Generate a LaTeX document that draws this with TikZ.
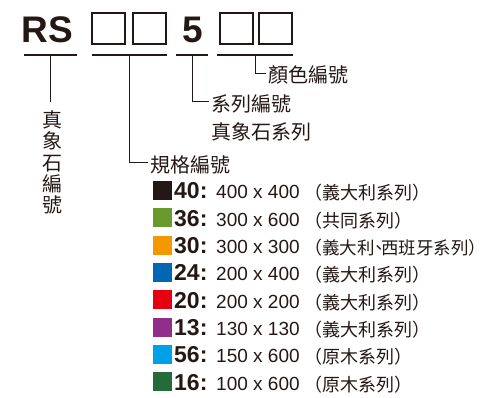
\documentclass[tikz,border=0pt]{standalone}
\usepackage{fontspec}
\setmainfont{Liberation Sans}
\newfontfamily\cjk{Noto Sans CJK TC}
\usetikzlibrary{positioning}
\definecolor{ink}{HTML}{231815}
\definecolor{c40}{HTML}{231815}
\definecolor{c36}{HTML}{6A9A2E}
\definecolor{c30}{HTML}{F39800}
\definecolor{c24}{HTML}{0067B5}
\definecolor{c20}{HTML}{E60012}
\definecolor{c13}{HTML}{8F2F8B}
\definecolor{c56}{HTML}{00A0E9}
\definecolor{c16}{HTML}{256A39}

\begin{document}
\begin{tikzpicture}[x=1pt,y=-1pt,
    every node/.style={inner sep=0pt,text=ink},
    slot/.style={draw=ink,line width=2pt,minimum width=33pt,minimum height=31pt},
    uline/.style={fill=ink,minimum height=2.6pt},
    big/.style={font=\bfseries\fontsize{37}{37}\selectfont,anchor=base west},
    tag/.style={font=\cjk\fontsize{20}{20}\selectfont,inner xsep=2pt,anchor=west},
    wire/.style={draw=ink,line width=0.8pt}]
  \useasboundingbox (0,0) rectangle (487,398);
  % code line
  \node[big] (rs) at (21.5,43) {RS};
  \node[slot] (s1) at (108.5,28.5) {};
  \node[slot] (s2) at (149,28.5) {};
  \node[big] (five) at (182,43) {5};
  \node[slot] (s3) at (236,28.5) {};
  \node[slot] (s4) at (275.5,28.5) {};
  \node[uline,minimum width=53pt] (ulrs) at (50.5,55) {};
  \node[uline,minimum width=75pt] (ulsize) at (129.5,55) {};
  \node[uline,minimum width=32pt] (ulfive) at (192,55) {};
  \node[uline,minimum width=76pt] (ulcolor) at (255,55) {};
  % labels
  \node[font=\cjk\fontsize{20}{21.3}\selectfont,align=center] (stone) at (52.5,162.5) {真\\象\\石\\編\\號};
  \coordinate (stoneend) at (50.5,102);
  \node[tag] (size) at (148,164.5) {規格編號};
  \node[tag] (series) at (209,104) {系列編號};
  \node[tag,anchor=north west] (series2) at ([yshift=-9pt]series.south west) {真象石系列};
  \node[tag] (color) at (266,75) {顏色編號};
  \draw[wire] (ulrs.south) -- (stoneend);
  \draw[wire] (ulsize.south) |- ([yshift=2pt]size.west);
  \draw[wire] (ulfive.south) |- ([yshift=3pt]series.west);
  \draw[wire] (ulcolor.south) |- ([yshift=2pt]color.west);
  % sizes
  \foreach \code/\dims/\kind/\col [count=\i from 0] in {40/400 x 400/義大利系列/c40,
      36/300 x 600/共同系列/c36,
      30/300 x 300/\fontsize{17.5}{18}\selectfont 義大利\kern-4pt、\kern-7pt西班牙系列/c30,
      24/200 x 400/義大利系列/c24, 20/200 x 200/義大利系列/c20,
      13/130 x 130/義大利系列/c13, 56/150 x 600/原木系列/c56,
      16/100 x 600/原木系列/c16}{
    \node[fill=\col,minimum size=19pt] (sw\code) at (162.5,190.5+27.3*\i) {};
    \node[font=\bfseries\fontsize{23}{23}\selectfont,anchor=base west] (num\code) at (174,199+27.3*\i) {\code:};
    \node[font=\fontsize{19}{19}\selectfont,anchor=base west] (dim\code) at (216,199+27.3*\i) {\dims};
    \node[font=\cjk\fontsize{18}{18}\selectfont,anchor=base west] (kind\code) at (304,200+27.3*\i) {（\kind）\kern-8pt};
  }
\end{tikzpicture}
\end{document}
